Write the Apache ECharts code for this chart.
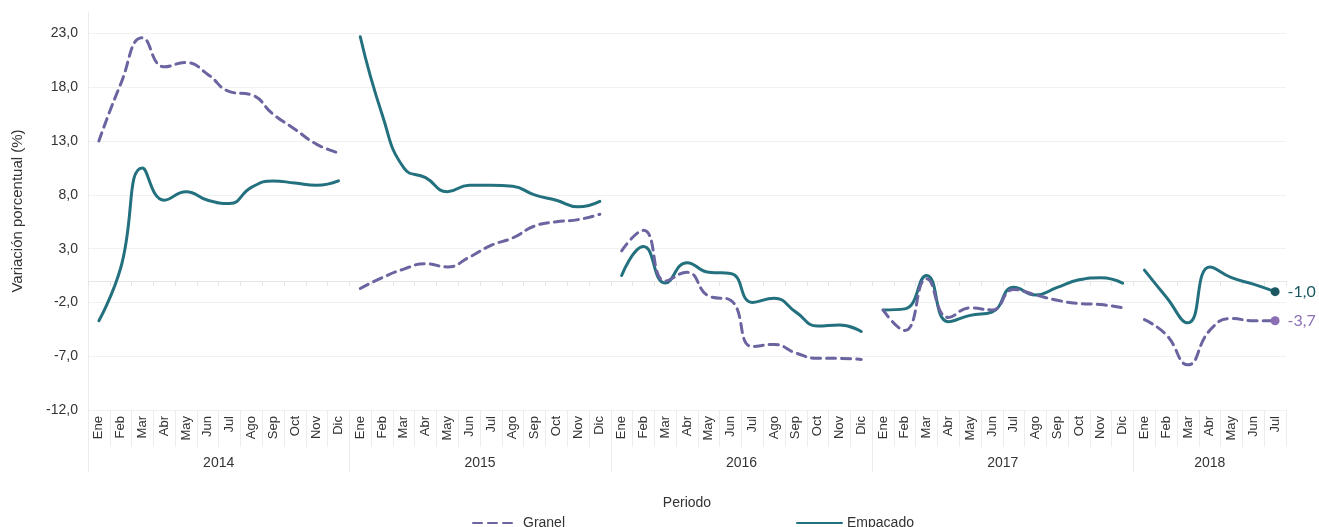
<!DOCTYPE html>
<html>
<head>
<meta charset="utf-8">
<script src="https://cdn.jsdelivr.net/npm/echarts@6/dist/echarts.min.js"></script>
<style>html,body{margin:0;padding:0;background:#fff;}#c{width:1319px;height:527px;}</style>
</head>
<body>
<div id="c"></div>
<script>
const years = ['2014', '2015', '2016', '2017', '2018'];
const monthNames = ['Ene','Feb','Mar','Abr','May','Jun','Jul','Ago','Sep','Oct','Nov','Dic'];
const monthsPerYear = [12, 12, 12, 12, 7];

const granel2014 = [13.0, 18.3, 22.6, 19.9, 20.3, 19.2, 17.6, 17.3, 15.5, 14.1, 12.7, 11.9];
const granel2015 = [-0.7, 0.3, 1.1, 1.6, 1.3, 2.2, 3.3, 4.0, 5.1, 5.5, 5.7, 6.2];
const granel2016 = [2.8, 4.7, 0.0, 0.8, -1.4, -1.8, -6.1, -5.9, -6.7, -7.2, -7.2, -7.3];
const granel2017 = [-2.7, -4.6, 0.2, -3.4, -2.5, -2.7, -0.8, -1.3, -1.8, -2.1, -2.2, -2.5];
const granel2018 = [-3.6, -5.0, -7.8, -4.6, -3.5, -3.7, -3.7];

const empacado2014 = [-3.7, 1.2, 10.5, 7.5, 8.3, 7.5, 7.2, 8.7, 9.3, 9.1, 8.9, 9.3];
const empacado2015 = [22.7, 15.5, 10.5, 9.6, 8.3, 8.9, 8.9, 8.8, 8.0, 7.5, 6.9, 7.4];
const empacado2016 = [0.5, 3.2, -0.2, 1.7, 0.8, 0.7, -2.0, -1.6, -2.9, -4.2, -4.1, -4.7];
const empacado2017 = [-2.7, -2.6, 0.5, -3.8, -3.2, -2.9, -0.6, -1.3, -0.6, 0.1, 0.3, -0.2];
const empacado2018 = [1.0, -1.5, -3.9, 1.3, 0.3, -0.3, -1.0];

const granelByYear = [granel2014, granel2015, granel2016, granel2017, granel2018];
const empacadoByYear = [empacado2014, empacado2015, empacado2016, empacado2017, empacado2018];

const yTicks = { min: -12, max: 25, interval: 5 };

// build categories
const categories = [];
const yearStart = [];
monthsPerYear.forEach((n, i) => {
  yearStart.push(categories.length);
  for (let m = 0; m < n; m++) categories.push(monthNames[m] + '|' + years[i]);
});
const total = categories.length;
const yearBounds = yearStart.slice();
const yearCenters = yearStart.map((s, i) => s + monthsPerYear[i] / 2);

const fmt = v => v.toFixed(1).replace('.', ',');
const GRANEL = '#6A64A0', EMPACADO = '#23707E';
const GRANEL_DOT = '#8B6FB5', EMPACADO_DOT = '#1C5862';
const FONT = 'Liberation Sans';

function makeSeries(name, byYear, color, dotColor, dashed) {
  return byYear.map((vals, yi) => {
    const data = new Array(total).fill(null);
    vals.forEach((v, k) => { data[yearStart[yi] + k] = v; });
    const isLast = yi === byYear.length - 1;
    const lastIdx = yearStart[yi] + vals.length - 1;
    return {
      name: name,
      type: 'line',
      xAxisIndex: 0,
      yAxisIndex: 0,
      data: data,
      smooth: 0.5,
      connectNulls: false,
      symbol: isLast ? 'circle' : 'none',
      showSymbol: isLast,
      showAllSymbol: true,
      symbolSize: (v, p) => (isLast && p.dataIndex === lastIdx) ? 9 : 0,
      itemStyle: { color: isLast ? dotColor : color },
      lineStyle: { color: color, width: 3, type: dashed ? [9, 6] : 'solid', cap: 'round' },
      label: {
        show: isLast,
        position: 'right',
        distance: 8,
        fontFamily: 'Lato',
        fontSize: 16,
        color: isLast ? dotColor : color,
        formatter: p => (p.dataIndex === lastIdx ? fmt(p.value) : '')
      },
      emphasis: { disabled: true },
      z: dashed ? 3 : 2
    };
  });
}

const series = [].concat(
  makeSeries('Granel', granelByYear, GRANEL, GRANEL_DOT, true),
  makeSeries('Empacado', empacadoByYear, EMPACADO, EMPACADO_DOT, false)
);

const chart = echarts.init(document.getElementById('c'), null, { renderer: 'canvas' });
chart.setOption({
  animation: false,
  backgroundColor: '#fff',
  textStyle: { fontFamily: FONT },
  grid: { left: 88, right: 33, top: 12, bottom: 117, containLabel: false },
  legend: {
    data: ['Granel', 'Empacado'],
    left: 467,
    top: 511,
    itemGap: 231,
    itemWidth: 45,
    itemHeight: 12,
    itemStyle: { opacity: 0 },
    textStyle: { fontFamily: FONT, fontSize: 14, color: '#333' },
    selectedMode: false
  },
  xAxis: [
    {
      type: 'category',
      data: categories,
      position: 'bottom',
      boundaryGap: true,
      axisLine: { show: false, onZero: false },
      axisTick: { show: true, interval: 0, length: 37, lineStyle: { color: '#ececec' } },
      axisLabel: {
        interval: 0,
        rotate: 90,
        margin: 6,
        fontFamily: FONT,
        fontSize: 13,
        color: '#333',
        formatter: v => v.split('|')[0]
      },
      splitLine: { show: false },
      name: 'Periodo',
      nameLocation: 'middle',
      nameGap: 86,
      nameTextStyle: { fontFamily: FONT, fontSize: 14, color: '#333' }
    },
    {
      type: 'category',
      data: categories,
      position: 'bottom',
      boundaryGap: true,
      axisLine: { show: true, onZero: true, lineStyle: { color: '#e6e6e6', width: 1 } },
      axisTick: { show: true, interval: 0, length: 5, lineStyle: { color: '#e6e6e6' } },
      axisLabel: { show: false },
      splitLine: { show: false }
    },
    {
      type: 'value',
      min: 0,
      max: total,
      position: 'bottom',
      axisLine: { show: false, onZero: false },
      axisTick: { show: true, customValues: yearBounds, length: 62, lineStyle: { color: '#ececec' } },
      axisLabel: {
        customValues: yearCenters,
        margin: 46,
        fontFamily: FONT,
        fontSize: 14,
        color: '#333',
        formatter: v => years[yearCenters.indexOf(v)] || ''
      },
      splitLine: { show: false }
    }
  ],
  yAxis: {
    type: 'value',
    min: yTicks.min,
    max: yTicks.max,
    interval: yTicks.interval,
    axisLine: { show: true, lineStyle: { color: '#ececec' } },
    axisTick: { show: false },
    axisLabel: {
      margin: 10,
      fontFamily: FONT,
      fontSize: 14,
      color: '#333',
      showMaxLabel: false,
      formatter: v => (v === yTicks.max ? '' : fmt(v))
    },
    splitLine: { show: true, showMaxLine: false, lineStyle: { color: '#f1f1f1', width: 1 } },
    name: 'Variación porcentual (%)',
    nameLocation: 'middle',
    nameGap: 63,
    nameRotate: 90,
    nameTextStyle: { fontFamily: FONT, fontSize: 15, color: '#333' }
  },
  series: series
});
</script>
</body>
</html>
